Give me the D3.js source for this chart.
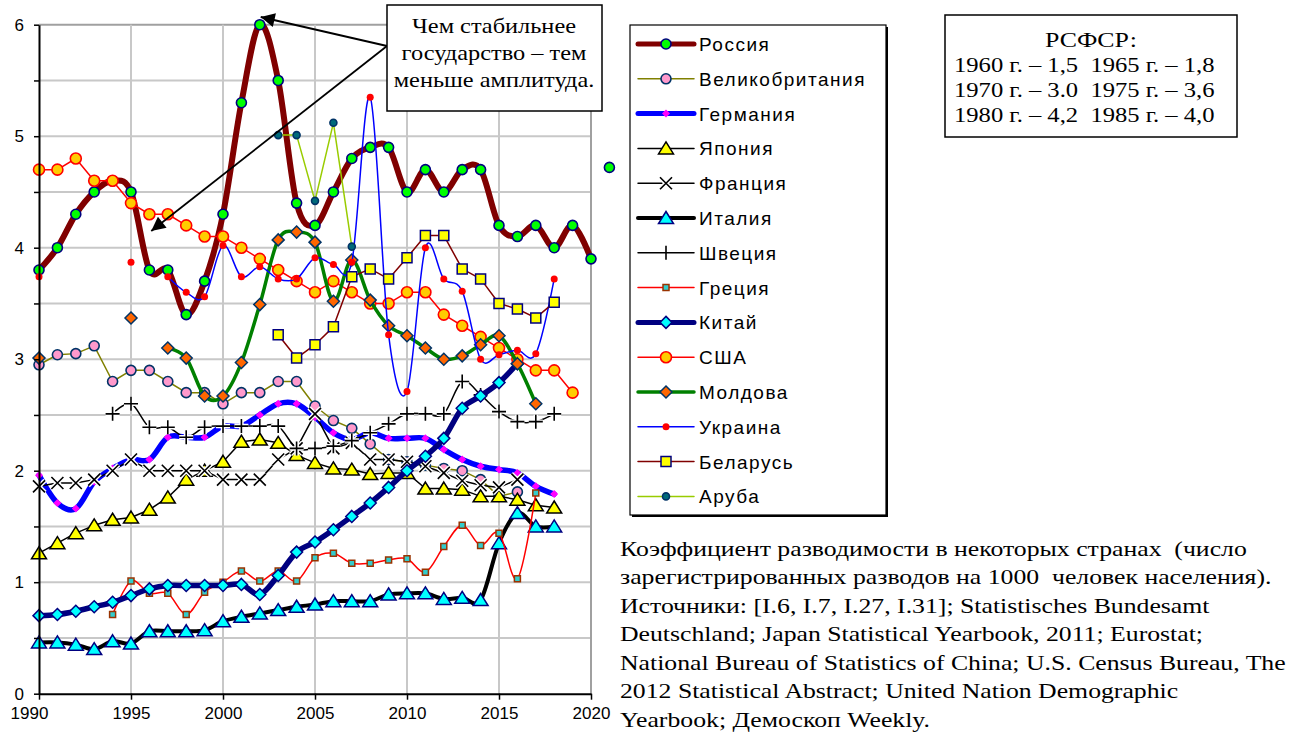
<!DOCTYPE html>
<html>
<head>
<meta charset="utf-8">
<script src="https://cdn.jsdelivr.net/npm/d3@7"></script>
<style>
  body { margin: 0; background: #fff; }
  svg { display: block; }
</style>
</head>
<body>
<svg id="chart"></svg>
<script>
// years on the x axis (1990..2020)
const years = [1990, 1991, 1992, 1993, 1994, 1995, 1996, 1997, 1998, 1999,
  2000, 2001, 2002, 2003, 2004, 2005, 2006, 2007, 2008, 2009,
  2010, 2011, 2012, 2013, 2014, 2015, 2016, 2017, 2018, 2019, 2020];

const xTicks = [1990, 1995, 2000, 2005, 2010, 2015, 2020];

// values per year, null = no data
const russia = [3.8, 4.0, 4.3, 4.5, 4.6, 4.5, 3.8, 3.8, 3.4, 3.7,
  4.3, 5.3, 6.0, 5.5, 4.4, 4.2, 4.5, 4.8, 4.9, 4.9,
  4.5, 4.7, 4.5, 4.7, 4.7, 4.2, 4.1, 4.2, 4.0, 4.2, 3.9];
const russiaLate = [[2021, 4.72]];

const uk = [2.95, 3.04, 3.05, 3.12, 2.8, 2.9, 2.9, 2.8, 2.7, 2.7,
  2.6, 2.7, 2.7, 2.8, 2.8, 2.58, 2.45, 2.38, 2.24, 2.1,
  2.08, 2.05, 2.02, 2.0, 1.92, 1.77, 1.81, null, null, null, null];

const germany = [1.96, 1.71, 1.66, 1.9, 2.02, 2.1, 2.1, 2.3, 2.3, 2.3,
  2.4, 2.4, 2.5, 2.6, 2.6, 2.48, 2.34, 2.28, 2.34, 2.29,
  2.29, 2.29, 2.19, 2.1, 2.04, 2.01, 1.98, 1.86, 1.79, null, null];

const japan = [1.26, 1.35, 1.44, 1.51, 1.56, 1.58, 1.65, 1.76, 1.92, 2.0,
  2.08, 2.26, 2.28, 2.25, 2.14, 2.07, 2.02, 2.01, 1.97, 1.98,
  1.98, 1.84, 1.84, 1.83, 1.77, 1.77, 1.74, 1.69, 1.67, null, null];

const france = [1.86, 1.89, 1.89, 1.92, 2.0, 2.1, 2.0, 2.0, 2.0, 2.0,
  1.92, 1.92, 1.92, 2.1, 2.2, 2.51, 2.2, 2.25, 2.1, 2.1,
  2.08, 2.04, 1.98, 1.91, 1.87, 1.85, 1.92, null, null, null, null];

const italy = [0.46, 0.46, 0.44, 0.40, 0.47, 0.45, 0.56, 0.56, 0.56, 0.57,
  0.65, 0.69, 0.72, 0.75, 0.78, 0.80, 0.83, 0.83, 0.83, 0.89,
  0.90, 0.90, 0.85, 0.86, 0.84, 1.35, 1.62, 1.50, 1.50, null, null];

const sweden = [null, null, null, null, 2.51, 2.6, 2.39, 2.39, 2.3, 2.39,
  2.4, 2.4, 2.4, 2.4, 2.2, 2.2, 2.22, 2.27, 2.34, 2.42,
  2.51, 2.51, 2.51, 2.8, 2.68, 2.53, 2.44, 2.44, 2.51, null, null];

const greece = [null, null, null, null, 0.71, 1.01, 0.9, 0.9, 0.71, 0.91,
  1.0, 1.1, 1.01, 1.1, 1.01, 1.22, 1.26, 1.17, 1.17, 1.2,
  1.21, 1.09, 1.32, 1.51, 1.33, 1.44, 1.03, 1.8, null, null, null];

const china = [0.70, 0.71, 0.74, 0.78, 0.82, 0.88, 0.94, 0.97, 0.97, 0.97,
  0.97, 0.98, 0.89, 1.06, 1.27, 1.36, 1.47, 1.59, 1.71, 1.85,
  2.0, 2.13, 2.29, 2.56, 2.67, 2.79, 2.96, null, null, null, null];

const usa = [4.7, 4.7, 4.8, 4.6, 4.6, 4.4, 4.3, 4.3, 4.2, 4.1,
  4.1, 4.0, 3.9, 3.8, 3.7, 3.6, 3.7, 3.6, 3.5, 3.5,
  3.6, 3.6, 3.4, 3.3, 3.2, 3.1, 3.0, 2.9, 2.9, 2.7, null];

const moldova = [3.01, null, null, null, null, 3.37, null, 3.1, 3.01, 2.67,
  2.67, 2.97, 3.49, 4.07, 4.14, 4.05, 3.52, 3.89, 3.53, 3.3,
  3.21, 3.1, 3.0, 3.03, 3.13, 3.21, 2.96, 2.6, null, null, null];

const ukraine = [3.74, null, null, null, null, 3.87, null, 3.74, 3.6, 3.56,
  4.02, 3.74, 3.83, 3.72, 3.72, 3.91, 3.85, 3.87, 5.35, 3.22,
  2.71, 4.0, 3.72, 3.61, 3.0, 3.04, 3.08, 3.05, 3.72, null, null];

const belarus = [null, null, null, null, null, null, null, null, null, null,
  null, null, null, 3.22, 3.01, 3.13, 3.29, 3.74, 3.81, 3.72,
  3.91, 4.11, 4.11, 3.81, 3.72, 3.5, 3.45, 3.37, 3.51, null, null];

const aruba = [null, null, null, null, null, null, null, null, null, null,
  null, null, null, 5.01, 5.01, 4.42, 5.12, 4.01, null, null,
  null, null, null, null, null, null, null, null, null, null, null];

const seriesNames = ["Россия", "Великобритания", "Германия", "Япония", "Франция",
  "Италия", "Швеция", "Греция", "Китай", "США", "Молдова", "Украина", "Беларусь", "Аруба"];

const noteLines = ["Чем стабильнее", "государство – тем", "меньше амплитуда."];
const rsfsrLines = ["1960 г. – 1,5  1965 г. – 1,8", "1970 г. – 3.0  1975 г. – 3,6", "1980 г. – 4,2  1985 г. – 4,0"];
const captionLines = [
  "Коэффициент разводимости в некоторых странах  (число",
  "зарегистрированных разводов на 1000  человек населения).",
  "Источники: [I.6, I.7, I.27, I.31]; Statistisches Bundesamt",
  "Deutschland; Japan Statistical Yearbook, 2011; Eurostat;",
  "National Bureau of Statistics of China; U.S. Census Bureau, The",
  "2012 Statistical Abstract; United Nation Demographic",
  "Yearbook; Демоскоп Weekly."
];

let config = {
  'svg': {},
  'plot': {},
  'legend': {}
};

config.svg.width = 1311;
config.svg.height = 740;

config.plot.left = 39;
config.plot.right = 591;
config.plot.top = 24.7;
config.plot.bottom = 693.7;

config.legend.x = 630;
config.legend.y = 25;
config.legend.width = 256;
config.legend.height = 490;

const serif = "Liberation Serif, Times New Roman, serif";
const sans = "Liberation Sans, Arial, sans-serif";

let svg = d3.select("svg#chart")
  .attr("width", config.svg.width)
  .attr("height", config.svg.height);

let scale = {};
scale.x = d3.scaleLinear().domain([1990, 2020]).range([config.plot.left, config.plot.right]);
scale.y = d3.scaleLinear().domain([0, 6]).range([config.plot.bottom, config.plot.top]);

// marker shapes
function diamond(r) { return `M0,${-r}L${r},0L0,${r}L${-r},0Z`; }
function square(r) { return `M${-r},${-r}H${r}V${r}H${-r}Z`; }
function triangle(r) { return `M0,${-r}L${r * 1.15},${r * 0.85}L${-r * 1.15},${r * 0.85}Z`; }
function cross(r) { return `M${-r},${-r}L${r},${r}M${r},${-r}L${-r},${r}`; }
function plus(r) { return `M${-r},0H${r}M0,${-r}V${r}`; }

const smooth = d3.curveCardinal.tension(0);

let series = [
  { values: russia, line: "#800000", width: 6, curve: smooth, marker: "circle", r: 5, fill: "#00ff00", stroke: "#000080" },
  { values: uk, line: "#808000", width: 1.5, curve: d3.curveLinear, marker: "circle", r: 5, fill: "#ff99cc", stroke: "#003366" },
  { values: germany, line: "#0000ff", width: 5.5, curve: smooth, marker: "path", shape: diamond, r: 4, fill: "#ff00ff", stroke: "none" },
  { values: japan, line: "#000000", width: 1.5, curve: d3.curveLinear, marker: "path", shape: triangle, r: 6.5, fill: "#ffff00", stroke: "#000000" },
  { values: france, line: "#000000", width: 1.5, curve: d3.curveLinear, marker: "x", shape: cross, r: 6, fill: "none", stroke: "#000000" },
  { values: italy, line: "#000000", width: 4, curve: smooth, marker: "path", shape: triangle, r: 6.5, fill: "#00ffff", stroke: "#000080" },
  { values: sweden, line: "#000000", width: 1.5, curve: smooth, marker: "x", shape: plus, r: 7, fill: "none", stroke: "#000000" },
  { values: greece, line: "#ff0000", width: 1.5, curve: smooth, marker: "path", shape: square, r: 3, fill: "#33cccc", stroke: "#993300" },
  { values: china, line: "#000080", width: 5.5, curve: smooth, marker: "path", shape: diamond, r: 6, fill: "#00ffff", stroke: "#000080" },
  { values: usa, line: "#ff0000", width: 1.5, curve: d3.curveLinear, marker: "circle", r: 5.5, fill: "#ffcc00", stroke: "#ff0000" },
  { values: moldova, line: "#008000", width: 3.5, curve: smooth, marker: "path", shape: diamond, r: 6, fill: "#ff6600", stroke: "#003366" },
  { values: ukraine, line: "#0000ff", width: 1.5, curve: smooth, marker: "circle", r: 3.5, fill: "#ff0000", stroke: "none" },
  { values: belarus, line: "#800000", width: 1.5, curve: d3.curveLinear, marker: "path", shape: square, r: 5, fill: "#ffff00", stroke: "#000080" },
  { values: aruba, line: "#99cc00", width: 1.5, curve: d3.curveLinear, marker: "circle", r: 3.5, fill: "#006a7a", stroke: "#003366" }
];
series.forEach((s, i) => { s.name = seriesNames[i]; });

drawGrid();
drawSeries();
drawAxes();
drawNote();
drawLegend();
drawRsfsr();
drawCaption();

function drawGrid() {
  let grid = svg.append("g").attr("id", "grid");

  grid.selectAll("line.h")
    .data(d3.range(0.5, 6.01, 0.5))
    .enter()
    .append("line")
    .attr("x1", config.plot.left)
    .attr("x2", config.plot.right)
    .attr("y1", d => scale.y(d))
    .attr("y2", d => scale.y(d))
    .attr("stroke", d => d === 6 ? "#a0a0a0" : "#c8c8c8")
    .attr("stroke-width", 2);

  grid.selectAll("line.v")
    .data(xTicks.slice(1))
    .enter()
    .append("line")
    .attr("x1", d => scale.x(d))
    .attr("x2", d => scale.x(d))
    .attr("y1", config.plot.top)
    .attr("y2", config.plot.bottom)
    .attr("stroke", d => d === 2020 ? "#a0a0a0" : "#c8c8c8")
    .attr("stroke-width", 2);
}

function drawMarker(g, s, x, y) {
  if (s.marker === "circle") {
    g.append("circle")
      .attr("cx", x).attr("cy", y).attr("r", s.r)
      .attr("fill", s.fill)
      .attr("stroke", s.stroke)
      .attr("stroke-width", 1.6);
  } else if (s.marker === "x") {
    g.append("path")
      .attr("transform", translate(x, y))
      .attr("d", s.shape(s.r))
      .attr("stroke", "#fff")
      .attr("stroke-width", 4.5)
      .attr("fill", "none");
    g.append("path")
      .attr("transform", translate(x, y))
      .attr("d", s.shape(s.r))
      .attr("stroke", s.stroke)
      .attr("stroke-width", 1.6)
      .attr("fill", "none");
  } else {
    g.append("path")
      .attr("transform", translate(x, y))
      .attr("d", s.shape(s.r))
      .attr("fill", s.fill)
      .attr("stroke", s.stroke)
      .attr("stroke-width", 1.5);
  }
}

function drawSeries() {
  let plot = svg.append("g").attr("id", "plot");

  series.forEach(function(s) {
    let g = plot.append("g").attr("class", "series");
    let points = years.map((yr, i) => [yr, s.values[i]]);

    let line = d3.line()
      .defined(d => d[1] !== null)
      .x(d => scale.x(d[0]))
      .y(d => scale.y(d[1]))
      .curve(s.curve);

    g.append("path")
      .datum(points)
      .attr("d", line)
      .attr("fill", "none")
      .attr("stroke", s.line)
      .attr("stroke-width", s.width)
      .attr("stroke-linejoin", "round")
      .attr("stroke-linecap", "round");

    points.filter(d => d[1] !== null).forEach(function(d) {
      drawMarker(g, s, scale.x(d[0]), scale.y(d[1]));
    });
  });

  // the Russian point for 2021 sits outside the axis
  russiaLate.forEach(function(d) {
    drawMarker(plot, series[0], scale.x(d[0]), scale.y(d[1]));
  });
}

function drawAxes() {
  let axisX = d3.axisBottom(scale.x)
    .tickValues(xTicks)
    .tickFormat(d3.format("d"))
    .tickSize(6)
    .tickSizeOuter(0)
    .tickPadding(7);

  let gx = svg.append("g")
    .attr("transform", translate(0, config.plot.bottom))
    .call(axisX);
  gx.select(".domain").attr("stroke", "#000").attr("stroke-width", 2);
  gx.selectAll(".tick line").attr("stroke", "#000").attr("stroke-width", 1.5);
  gx.selectAll("text")
    .attr("font-family", sans)
    .attr("font-size", "17px")
    .attr("fill", "#000");
  // first label is pushed left, as in the original
  gx.selectAll(".tick").filter(d => d === 1990).select("text").attr("dx", -10);

  let axisY = d3.axisLeft(scale.y)
    .tickValues(d3.range(0, 6.01, 0.5))
    .tickFormat(d => Number.isInteger(d) ? d : "")
    .tickSize(5)
    .tickSizeOuter(0)
    .tickPadding(10);

  let gy = svg.append("g")
    .attr("transform", translate(config.plot.left, 0))
    .call(axisY);
  gy.select(".domain").attr("stroke", "#000").attr("stroke-width", 2);
  gy.selectAll(".tick line").attr("stroke", "#000").attr("stroke-width", 1.5);
  gy.selectAll("text")
    .attr("font-family", sans)
    .attr("font-size", "17px")
    .attr("fill", "#000");
}

function drawNote() {
  let note = svg.append("g").attr("id", "note");

  svg.append("defs")
    .append("marker")
    .attr("id", "arrow")
    .attr("viewBox", "0 0 10 10")
    .attr("refX", 10)
    .attr("refY", 5)
    .attr("markerWidth", 20)
    .attr("markerHeight", 14)
    .attr("markerUnits", "userSpaceOnUse")
    .attr("orient", "auto")
    .append("path")
    .attr("d", "M0,0L10,5L0,10Z")
    .attr("fill", "#000");

  // arrows towards the Russian peak and the 1995 drop
  let start = [387, 46];
  let tips = [[scale.x(2002.05), 17], [scale.x(1996.1), 231]];
  tips.forEach(function(t) {
    note.append("line")
      .attr("x1", start[0]).attr("y1", start[1])
      .attr("x2", t[0]).attr("y2", t[1])
      .attr("stroke", "#000")
      .attr("stroke-width", 1.8)
      .attr("marker-end", "url(#arrow)");
  });

  note.append("rect")
    .attr("x", 387).attr("y", 5)
    .attr("width", 215).attr("height", 106)
    .attr("fill", "#fff")
    .attr("stroke", "#000")
    .attr("stroke-width", 1.5);

  note.append("g")
    .attr("transform", translate(494, 0) + " scale(1.16,1)")
    .selectAll("text")
    .data(noteLines)
    .enter()
    .append("text")
    .attr("x", 0)
    .attr("y", (d, i) => 33 + i * 27)
    .attr("text-anchor", "middle")
    .attr("font-family", serif)
    .attr("font-size", "21px")
    .text(d => d);
}

function drawLegend() {
  let legend = svg.append("g")
    .attr("id", "legend")
    .attr("transform", translate(config.legend.x, config.legend.y));

  legend.append("rect")
    .attr("x", 2).attr("y", 2)
    .attr("width", config.legend.width)
    .attr("height", config.legend.height)
    .attr("fill", "#000");

  legend.append("rect")
    .attr("width", config.legend.width)
    .attr("height", config.legend.height)
    .attr("fill", "#fff")
    .attr("stroke", "#000")
    .attr("stroke-width", 1.2);

  let rows = legend.selectAll("g.row")
    .data(series)
    .enter()
    .append("g")
    .attr("class", "row")
    .attr("transform", (d, i) => translate(0, 19 + i * 34.8));

  rows.append("line")
    .attr("x1", 8).attr("x2", 64)
    .attr("stroke", d => d.line)
    .attr("stroke-width", d => Math.min(d.width, 5))
    .attr("stroke-linecap", "round");

  rows.each(function(d) {
    drawMarker(d3.select(this), d, 36, 0);
  });

  rows.append("text")
    .attr("x", 69)
    .attr("y", 7)
    .attr("font-family", sans)
    .attr("font-size", "19px")
    .attr("letter-spacing", "1.5px")
    .text(d => d.name);
}

function drawRsfsr() {
  let box = svg.append("g").attr("id", "rsfsr");

  box.append("rect")
    .attr("x", 945).attr("y", 15)
    .attr("width", 292).attr("height", 122)
    .attr("fill", "#fff")
    .attr("stroke", "#000")
    .attr("stroke-width", 1.5);

  let txt = box.append("g")
    .attr("transform", translate(954, 0) + " scale(1.23,1)");

  txt.append("text")
    .attr("x", (1091 - 954) / 1.23).attr("y", 47)
    .attr("text-anchor", "middle")
    .attr("font-family", serif)
    .attr("font-size", "21px")
    .text("РСФСР:");

  txt.selectAll("text.row")
    .data(rsfsrLines)
    .enter()
    .append("text")
    .attr("class", "row")
    .attr("x", 0)
    .attr("y", (d, i) => 72 + i * 25)
    .attr("font-family", serif)
    .attr("font-size", "20px")
    .style("white-space", "pre")
    .text(d => d);
}

function drawCaption() {
  svg.append("g")
    .attr("id", "caption")
    .attr("transform", translate(620, 0) + " scale(1.17,1)")
    .selectAll("text")
    .data(captionLines)
    .enter()
    .append("text")
    .attr("x", 0)
    .attr("y", (d, i) => 556 + i * 28.5)
    .attr("font-family", serif)
    .attr("font-size", "22px")
    .style("white-space", "pre")
    .text(d => d);
}

function translate(x, y) {
  return 'translate(' + x + ',' + y + ')';
}
</script>
</body>
</html>
